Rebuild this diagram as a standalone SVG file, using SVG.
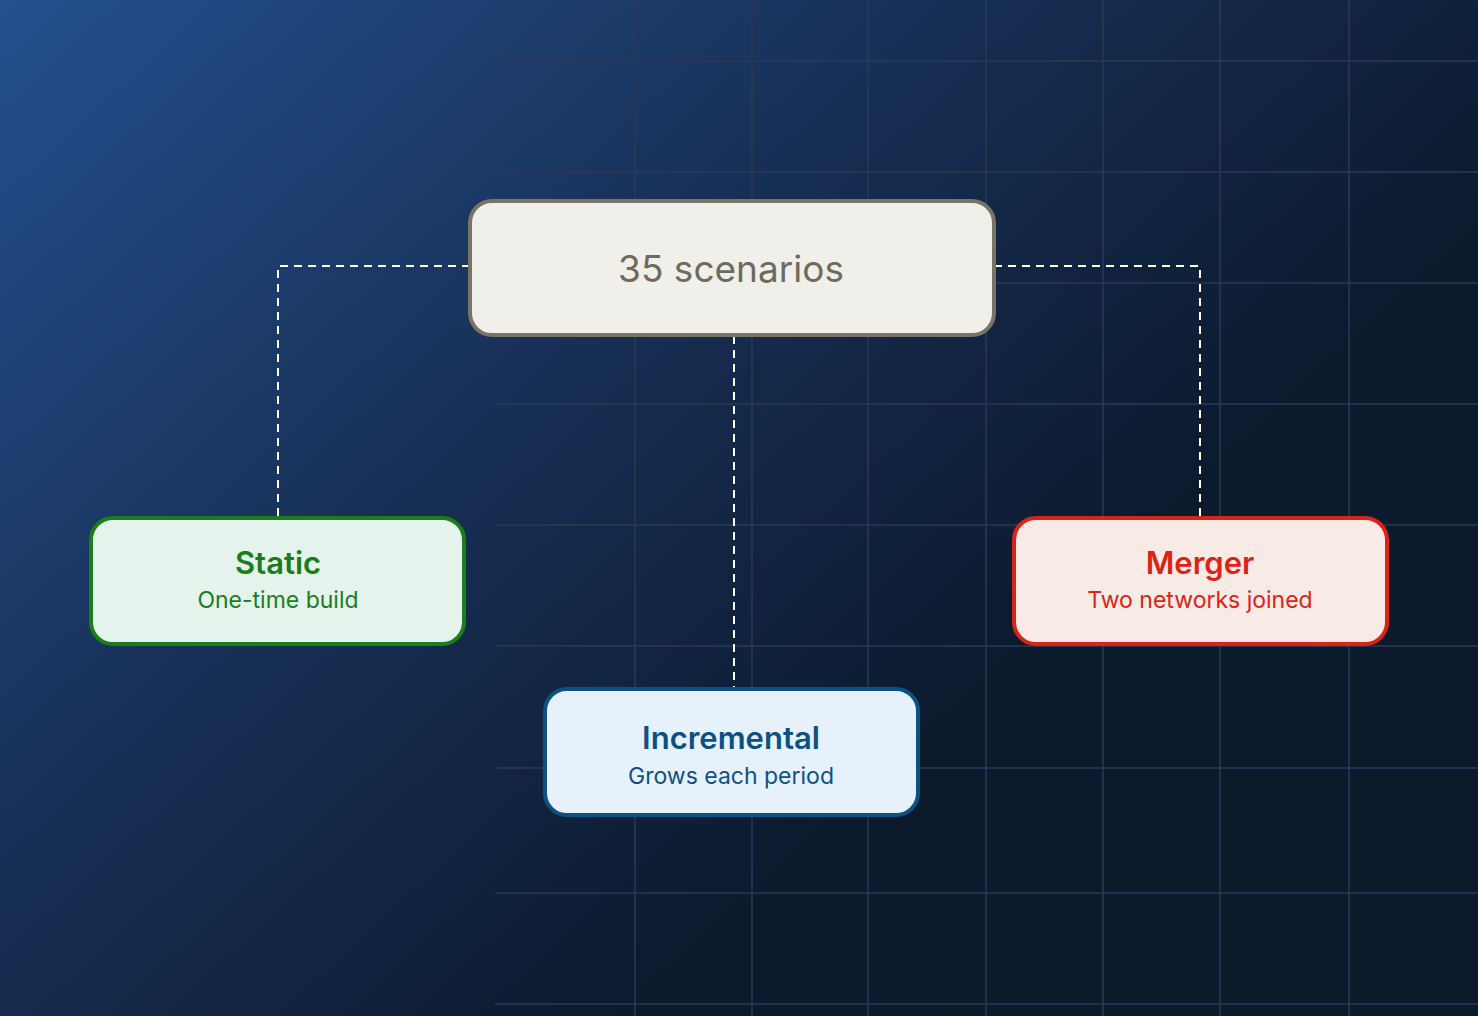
<svg xmlns="http://www.w3.org/2000/svg" width="1478" height="1016" viewBox="0 0 1478 1016">
<defs>
<linearGradient id="bg" x1="0" y1="0" x2="1" y2="0.75">
<stop offset="0" stop-color="#24508e"/>
<stop offset="0.45" stop-color="#162c50"/>
<stop offset="0.75" stop-color="#0c1a2e"/>
<stop offset="1" stop-color="#0d1a2c"/>
</linearGradient>
<style>
.g{stroke:#2a3a55;stroke-width:1.5;fill:none}
.c{stroke:#ffffff;stroke-width:2;stroke-dasharray:8 6;fill:none}
.t{font-family:Inter,"Noto Sans",sans-serif;text-anchor:middle}
.h{font-size:31px;font-weight:600}
.s{font-size:23px}
</style>
</defs>
<rect width="1478" height="1016" fill="url(#bg)"/>
<g id="grid">
<path class="g" d="M495 61H1478M495 172H1478M495 283H1478M495 404H1478M495 525H1478M495 646H1478M495 768H1478M495 893H1478M495 1004H1478"/>
<path class="g" d="M635 0V1016M752 0V1016M868 0V1016M986 0V1016M1103 0V1016M1220 0V1016M1349 0V1016"/>
</g>
<g id="connectors">
<path class="c" d="M470 266H278V516"/>
<path class="c" d="M994 266H1200V516"/>
<path class="c" d="M734 336V688"/>
</g>
<g id="root">
<rect x="470" y="201" width="524" height="134" rx="22" fill="#f0efea" stroke="#7a7466" stroke-width="4"/>
<text class="t" x="731" y="282" font-size="37" fill="#6e6a5e">35 scenarios</text>
</g>
<g id="static">
<rect x="91" y="518" width="373" height="126" rx="22" fill="#e4f4ec" stroke="#1b7d1b" stroke-width="4"/>
<text class="t h" x="278" y="574" fill="#1b7d1b">Static</text>
<text class="t s" x="278" y="608" fill="#1b7d1b">One-time build</text>
</g>
<g id="merger">
<rect x="1014" y="518" width="373" height="126" rx="22" fill="#f8ebe6" stroke="#dd2216" stroke-width="4"/>
<text class="t h" x="1200" y="574" fill="#dd2216">Merger</text>
<text class="t s" x="1200" y="608" fill="#dd2216">Two networks joined</text>
</g>
<g id="incremental">
<rect x="545" y="689" width="373" height="126" rx="22" fill="#e6f1fb" stroke="#0c5184" stroke-width="4"/>
<text class="t h" x="731" y="749" fill="#0c5184">Incremental</text>
<text class="t s" x="731" y="784" fill="#0c5184">Grows each period</text>
</g>
</svg>
